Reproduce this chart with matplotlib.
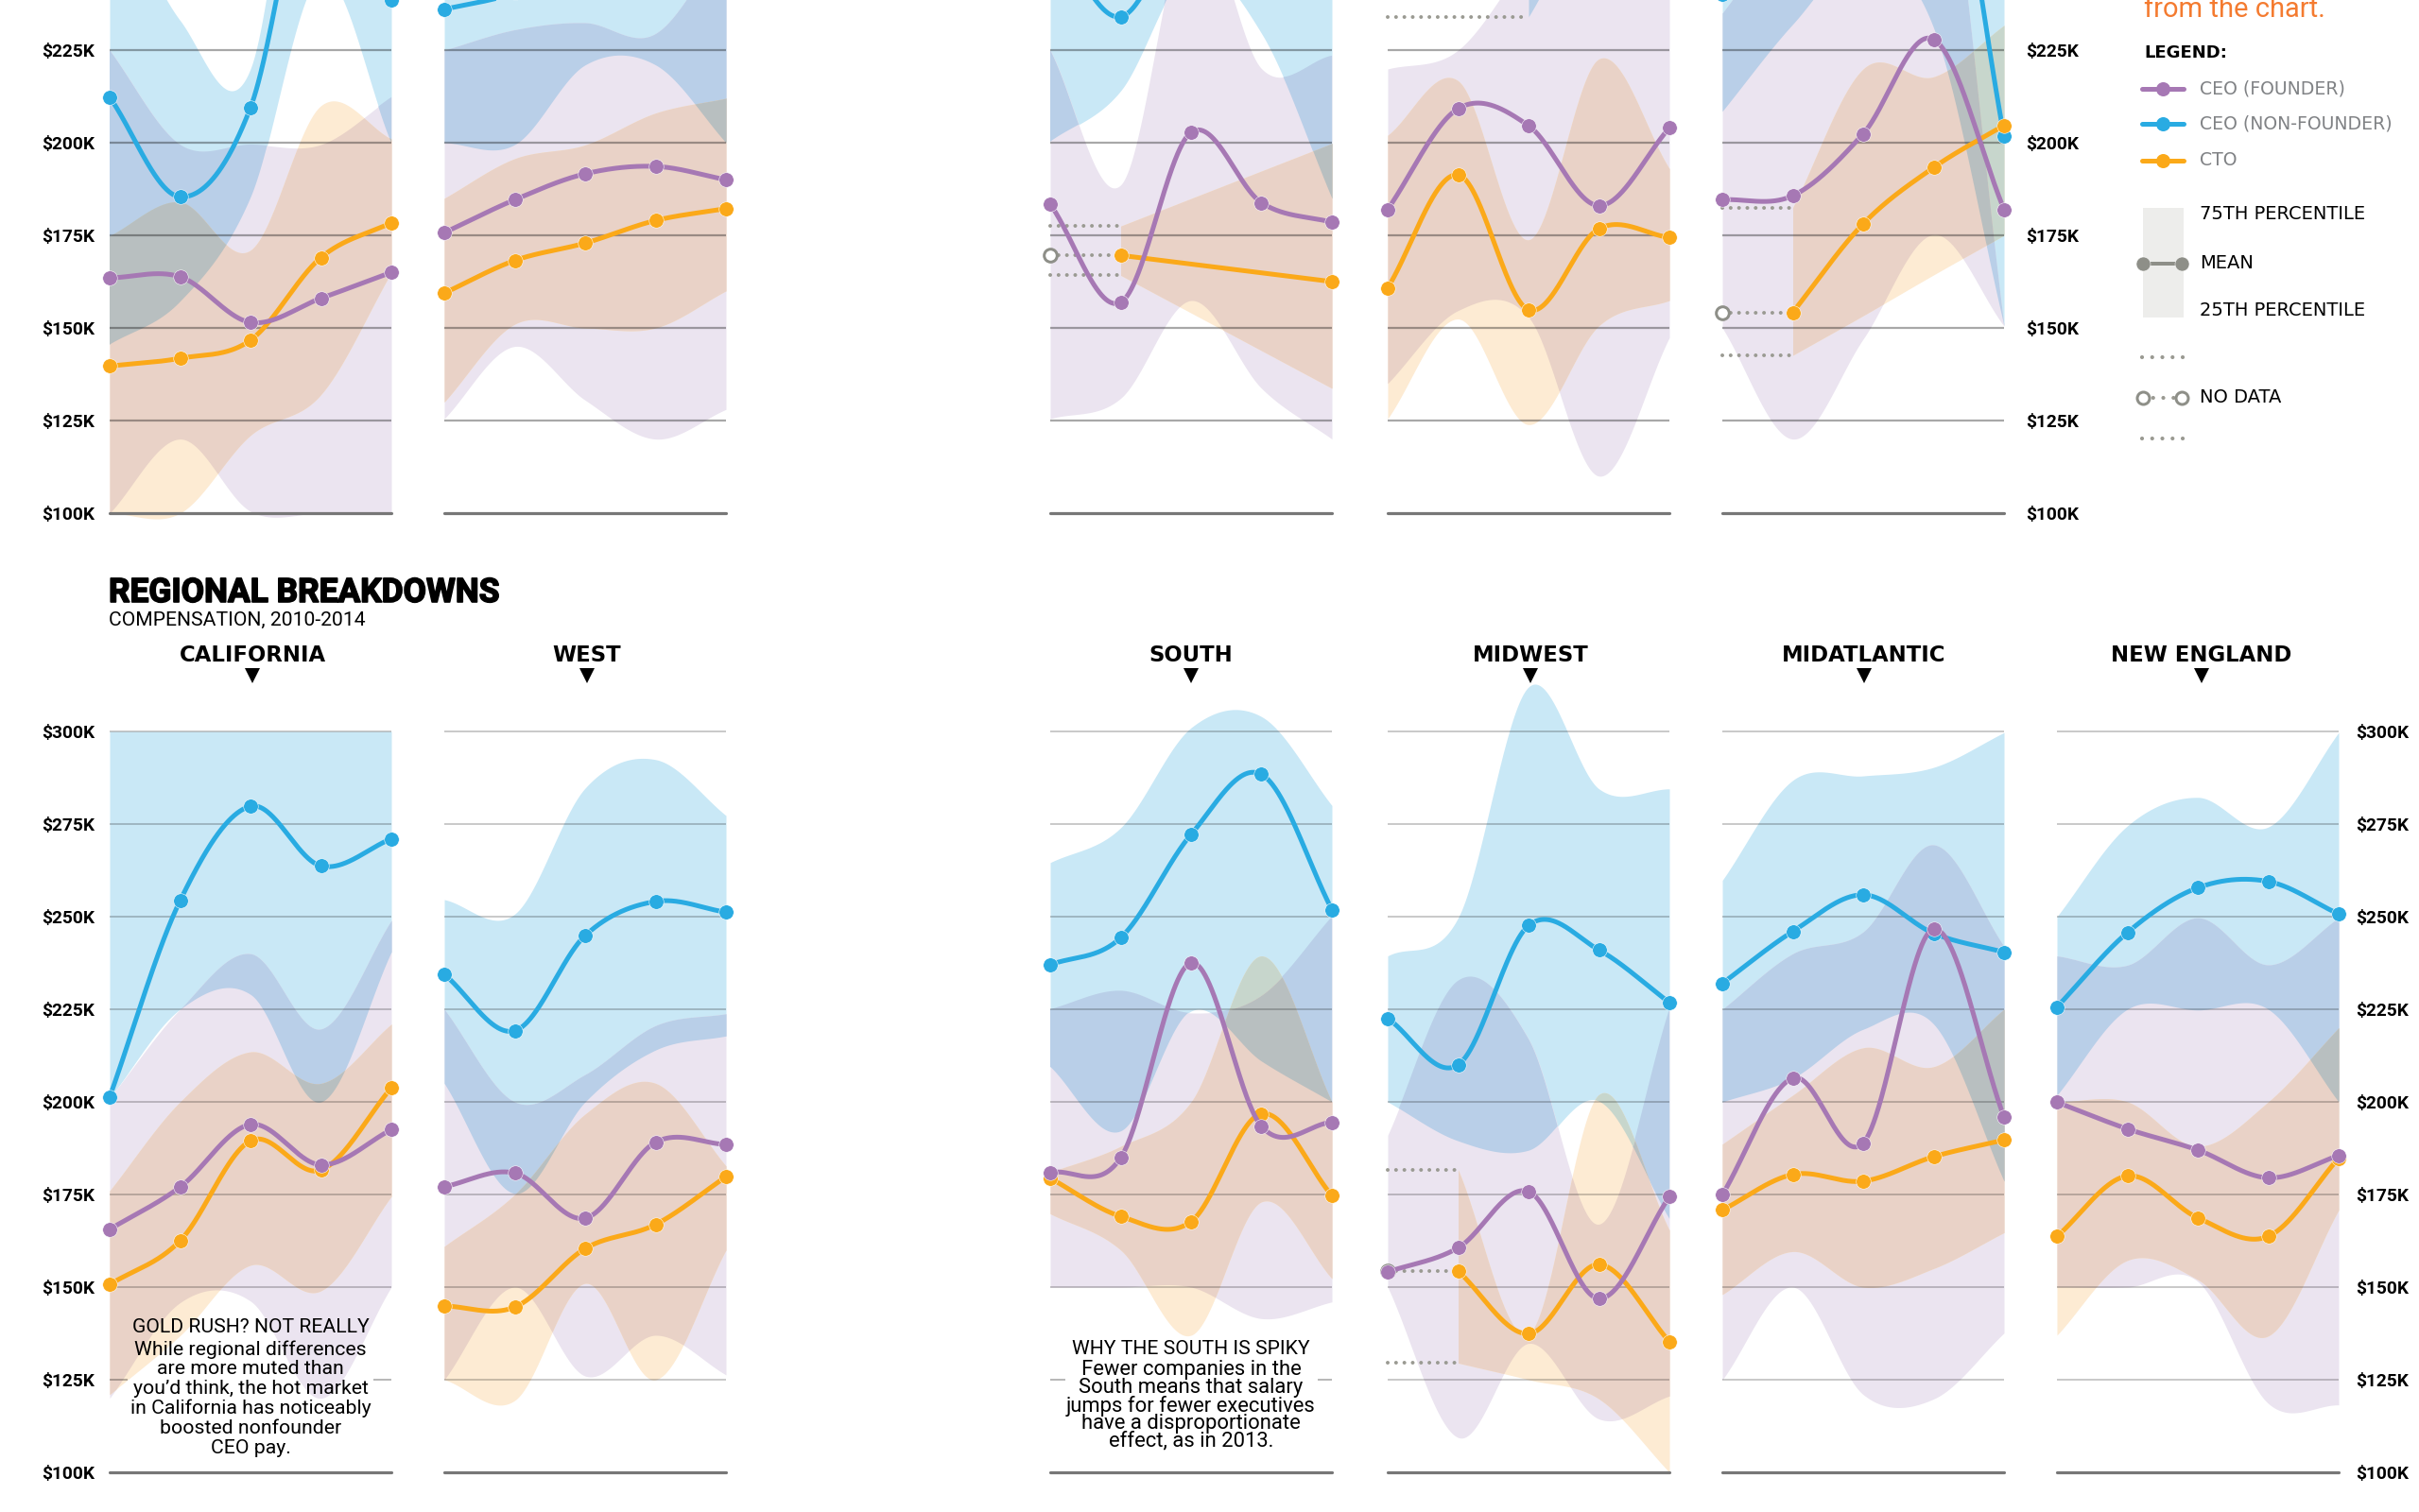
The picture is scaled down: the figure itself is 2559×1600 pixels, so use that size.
import matplotlib
matplotlib.use("Agg")
import matplotlib.pyplot as plt
import matplotlib.patheffects as pe
from matplotlib.patches import Polygon, Rectangle
import numpy as np

nan = float("nan")
W, H = 2559, 1600
PX = 72 / 100  # points per pixel at dpi 100
PX_PER_K = 3.92

# all values in $K, one value per year 2010-2014
T1_BLUE = [212.3, 185.4, 209.5, 285, 238.6]
T1_BLUE_LOW = [145.5, 157, 185, 245, 200]
T1_BLUE_HIGH = [270, 233, 220, 330, 300]
T1_PURPLE = [163.5, 163.8, 151.5, 158, 165]
T1_PURPLE_LOW = [100, 120, 100.5, 100, 100]
T1_PURPLE_HIGH = [225, 199.5, 199.5, 199.5, 212.3]
T1_ORANGE = [139.7, 141.8, 146.7, 169, 178.4]
T1_ORANGE_LOW = [100, 100, 121, 132, 165]
T1_ORANGE_HIGH = [174.7, 183.9, 171, 210, 201]

T2_BLUE = [236, 240.5, 250, 255, 260]
T2_BLUE_LOW = [200, 199.5, 221, 221, 200]
T2_BLUE_HIGH = [262, 272, 280, 285, 290]
T2_PURPLE = [175.7, 184.6, 191.6, 193.6, 190]
T2_PURPLE_LOW = [125.5, 145, 130.5, 120, 128]
T2_PURPLE_HIGH = [225, 230.5, 232.4, 229.5, 255]
T2_ORANGE = [159.4, 168.2, 172.9, 179, 182.2]
T2_ORANGE_LOW = [130, 151, 150, 150, 160]
T2_ORANGE_HIGH = [185, 195.7, 199.4, 208, 212]

T3_BLUE = [258, 234, 265, 280, 280]
T3_BLUE_LOW = [200.3, 214, 247, 229.5, 185]
T3_BLUE_HIGH = [285, 285, 290, 295, 295]
T3_PURPLE = [183.4, 156.9, 202.8, 183.8, 178.5]
T3_PURPLE_LOW = [125.5, 131, 157.4, 133.7, 120]
T3_PURPLE_HIGH = [225, 188.6, 262, 220, 223.5]
T3_ORANGE = [nan, 169.6, nan, nan, 162.5]
T3_ORANGE_LOW = [nan, 164.2, nan, nan, 133.7]
T3_ORANGE_HIGH = [nan, 177.5, nan, nan, 199.8]

T4_BLUE = [nan, nan, 250, 270, 270]
T4_BLUE_LOW = [nan, nan, 234, 265, 265]
T4_BLUE_HIGH = [nan, nan, 275, 285, 285]
T4_PURPLE = [182, 209.2, 204.6, 183, 204]
T4_PURPLE_LOW = [135, 154.7, 152.9, 110, 147.4]
T4_PURPLE_HIGH = [219.9, 225, 250, 275, 275]
T4_ORANGE = [160.8, 191.3, 154.9, 176.8, 174.4]
T4_ORANGE_LOW = [125.5, 152.4, 123.9, 150.6, 157.4]
T4_ORANGE_HIGH = [202, 216.7, 173.8, 222.6, 193]

T5_BLUE = [240, 262, 280, 305, 201.8]
T5_BLUE_LOW = [208.5, 232, 250, 231, 150.6]
T5_BLUE_HIGH = [262, 280, 290, 320, 290]
T5_PURPLE = [184.6, 185.7, 202.4, 227.9, 182]
T5_PURPLE_LOW = [150, 120, 147, 175.2, 150.5]
T5_PURPLE_HIGH = [235, 260, 280, 300, 150.6]
T5_ORANGE = [nan, 154.2, 178.1, 193.3, 204.7]
T5_ORANGE_LOW = [nan, 142.6, 153.3, 164.3, 175]
T5_ORANGE_HIGH = [nan, 182.5, 219.9, 217.8, 231.7]

CAL_BLUE = [201.3, 254.3, 279.8, 263.7, 271]
CAL_BLUE_LOW = [201, 225, 229, 200, 240.5]
CAL_BLUE_HIGH = [300, 300, 300, 300, 300]
CAL_PURPLE = [165.6, 177, 193.9, 183, 192.5]
CAL_PURPLE_LOW = [120, 145.8, 146.2, 120, 150]
CAL_PURPLE_HIGH = [201, 225, 240, 219.7, 249]
CAL_ORANGE = [150.7, 162.5, 189.5, 181.6, 203.8]
CAL_ORANGE_LOW = [121, 136.9, 155.9, 149, 174.5]
CAL_ORANGE_HIGH = [176, 200, 213.5, 205, 221]

WEST_BLUE = [234.4, 219.2, 244.9, 254.1, 251.2]
WEST_BLUE_LOW = [205, 175.3, 200, 214, 217.8]
WEST_BLUE_HIGH = [254.6, 250.7, 284.7, 292.4, 277.3]
WEST_PURPLE = [177.1, 180.8, 168.6, 189.1, 188.5]
WEST_PURPLE_LOW = [125, 150, 126, 137, 126.3]
WEST_PURPLE_HIGH = [225, 200, 207.4, 220.6, 223.8]
WEST_ORANGE = [144.9, 144.6, 160.4, 166.9, 179.8]
WEST_ORANGE_LOW = [125, 119.4, 151, 125, 160]
WEST_ORANGE_HIGH = [161, 175, 196.7, 205, 182.7]

SOUTH_BLUE = [237, 244.3, 272.2, 288.4, 251.9]
SOUTH_BLUE_LOW = [209.5, 192, 224.5, 211, 200]
SOUTH_BLUE_HIGH = [264.6, 274, 301, 304, 280]
SOUTH_PURPLE = [180.9, 184.9, 237.5, 193.4, 194.5]
SOUTH_PURPLE_LOW = [150, 150, 150, 141.5, 146]
SOUTH_PURPLE_HIGH = [225, 230, 224, 228.8, 250]
SOUTH_ORANGE = [179.4, 169.1, 167.7, 196.8, 174.7]
SOUTH_ORANGE_LOW = [169.8, 160, 137, 173, 152.3]
SOUTH_ORANGE_HIGH = [181, 188, 200, 239.4, 200]

MW_BLUE = [222.5, 210, 247.6, 241, 226.8]
MW_BLUE_LOW = [200, 189.4, 186.8, 200.2, 168.5]
MW_BLUE_HIGH = [239.4, 249.7, 312, 284.5, 284.5]
MW_PURPLE = [154.1, 160.6, 175.8, 146.9, 174.4]
MW_PURPLE_LOW = [150, 109.4, 134.8, 114.4, 120.6]
MW_PURPLE_HIGH = [191, 232.7, 217, 167, 225]
MW_ORANGE = [nan, 154.3, 137.4, 156.1, 135.3]
MW_ORANGE_LOW = [nan, 129.5, 125, 119.8, 100]
MW_ORANGE_HIGH = [nan, 181.7, 137.4, 202, 165.4]

MA_BLUE = [232, 246, 255.9, 245.5, 240.4]
MA_BLUE_LOW = [200, 206.4, 219.6, 221, 178.6]
MA_BLUE_HIGH = [259.8, 286.8, 288, 290.3, 299.7]
MA_PURPLE = [174.9, 206.4, 188.9, 246.6, 195.9]
MA_PURPLE_LOW = [125, 150, 121, 119.8, 137.6]
MA_PURPLE_HIGH = [225, 240, 245.9, 269.4, 242]
MA_ORANGE = [170.8, 180.4, 178.6, 185.2, 189.7]
MA_ORANGE_LOW = [148, 159.6, 150, 155, 164.7]
MA_ORANGE_HIGH = [188.6, 201.8, 214.6, 209.5, 225]

NE_BLUE = [225.6, 245.7, 257.8, 259.5, 250.7]
NE_BLUE_LOW = [201.8, 225, 224.8, 225, 200]
NE_BLUE_HIGH = [250, 274.5, 282.2, 274.2, 299.7]
NE_PURPLE = [199.9, 192.7, 187, 179.5, 185.5]
NE_PURPLE_LOW = [150, 150, 151.5, 118.6, 118.2]
NE_PURPLE_HIGH = [239.4, 236.9, 249.7, 237, 249.7]
NE_ORANGE = [163.7, 180, 168.7, 163.7, 184.8]
NE_ORANGE_LOW = [137, 157.2, 152, 136.8, 170.8]
NE_ORANGE_HIGH = [200, 200, 188, 200, 220]

TOP_TICKS = [100, 125, 150, 175, 200, 225]
BOTTOM_TICKS = [100, 125, 150, 175, 200, 225, 250, 275, 300]
LEGEND_SERIES = ["CEO (FOUNDER)", "CEO (NON-FOUNDER)", "CTO"]
LEGEND_RANGE = ["75TH PERCENTILE", "MEAN", "25TH PERCENTILE"]

PURPLE, BLUE, ORANGE = "#A678B4", "#29ABE2", "#FBA919"
BAND_BLUE, BAND_PURPLE, BAND_ORANGE = "#C9E8F6", "#EBE4F0", "#FDEBD3"
GRAY = "#8E8F88"
DOT_GRAY = "#9A9A92"

TICK_FONT = dict(family="Roboto", fontweight="bold", fontsize=13.8, color="black")
xs = np.linspace(0, 4, 401)


def smooth(vals):
    """Catmull-Rom curve through the yearly values, sampled on xs."""
    v = np.array(vals, dtype=float)
    px = np.flatnonzero(np.isfinite(v))
    py = v[px]
    out = np.full(xs.shape, nan)
    if len(px) == 2:
        m = xs >= px[0] - 1e-9
        m &= xs <= px[1] + 1e-9
        out[m] = np.interp(xs[m], px, py)
        return out
    slopes = np.gradient(py, px)
    slopes[0] = (py[1] - py[0]) / (px[1] - px[0])
    slopes[-1] = (py[-1] - py[-2]) / (px[-1] - px[-2])
    for i in range(len(px) - 1):
        h = px[i + 1] - px[i]
        m = (xs >= px[i] - 1e-9) & (xs <= px[i + 1] + 1e-9)
        t = (xs[m] - px[i]) / h
        out[m] = ((2 * t**3 - 3 * t**2 + 1) * py[i] + (t**3 - 2 * t**2 + t) * h * slopes[i]
                  + (-2 * t**3 + 3 * t**2) * py[i + 1] + (t**3 - t**2) * h * slopes[i + 1])
    return out


def multiply(colors):
    rgb = np.ones(3)
    for c in colors:
        rgb = rgb * np.array(matplotlib.colors.to_rgb(c))
    return tuple(rgb)


def draw_bands(ax, bands):
    curves = [(smooth(lo), smooth(hi), c) for lo, hi, c in bands]
    combos = [(0,), (1,), (2,), (0, 1), (0, 2), (1, 2), (0, 1, 2)]
    for combo in combos:
        lo = np.max([curves[i][0] for i in combo], axis=0)
        hi = np.min([curves[i][1] for i in combo], axis=0)
        with np.errstate(invalid="ignore"):
            mask = hi > lo
        col = multiply([curves[i][2] for i in combo])
        ax.fill_between(xs, lo, hi, where=mask, interpolate=True, color=col, lw=0, zorder=1 + 0.1 * len(combo))


def draw_no_data(ax, mean, low, high):
    first = int(np.flatnonzero(np.isfinite(mean))[0])
    if first == 0:
        return
    for vals in (low, mean, high):
        ax.plot([0, first], [vals[first], vals[first]], color=DOT_GRAY, lw=4.2 * PX * 0.95,
                linestyle=(0, (0.01, 2.2)), dash_capstyle="round", zorder=3, clip_on=False)
    ax.plot([0], [mean[first]], "o", ms=13 * PX * 1.05, mfc="white", mec=GRAY, mew=3 * PX, zorder=3.5, clip_on=False)


def draw_panel(box, row, ticks, data, tick_side=None, pad=16, gap=None):
    x0, x1 = box
    (y_top, y_bot, y100) = row
    ax = fig.add_axes([x0 / W, 1 - y_bot / H, (x1 - x0) / W, (y_bot - y_top) / H])
    ax.set_xlim(0, 4)
    ax.set_ylim(100 - (y_bot - y100) / PX_PER_K, 100 + (y100 - y_top) / PX_PER_K)
    ax.patch.set_visible(False)
    for s in ax.spines.values():
        s.set_visible(False)
    ax.set_xticks([])
    if tick_side:
        ax.set_yticks(ticks)
        ax.set_yticklabels([f"${t}K" for t in ticks], **TICK_FONT)
        ax.tick_params(axis="y", length=0, pad=pad * PX)
        if tick_side == "right":
            ax.yaxis.tick_right()
    else:
        ax.set_yticks([])

    blue, purple, orange = data
    draw_bands(ax, [(blue[1], blue[2], BAND_BLUE), (purple[1], purple[2], BAND_PURPLE),
                    (orange[1], orange[2], BAND_ORANGE)])

    is_top = y_top == 0
    for t in ticks:
        if t == 100:
            ax.plot([0, 4], [t, t], color="#777777", lw=3.2 * PX, solid_capstyle="round", zorder=2.5, clip_on=False)
        elif gap and t == 125:
            ax.hlines([t, t], [0, gap[1]], [gap[0], 4], color="black", alpha=0.28, lw=2 * PX, zorder=2.5)
        else:
            ax.hlines(t, 0, 4, color="black", alpha=0.34 if is_top else 0.26, lw=(2.2 if is_top else 1.6) * PX, zorder=2.5)

    for (mean, low, high), col, z in ((blue, BLUE, 4), (orange, ORANGE, 5), (purple, PURPLE, 6)):
        draw_no_data(ax, mean, low, high)
        ax.plot(xs, smooth(mean), color=col, lw=5 * PX, zorder=z, clip_on=False)
        ax.plot(range(5), mean, "o", color=col, ms=15.5 * PX, mec="white", mew=0.5 * PX, zorder=z + 0.1, clip_on=False)
    return ax


fig = plt.figure(figsize=(W / 100, H / 100), dpi=100, facecolor="white")

TOP_ROW = (0, 570, 543)
BOT_ROW = (690, 1600, 1558)

draw_panel((116, 414), TOP_ROW, TOP_TICKS,
           ((T1_BLUE, T1_BLUE_LOW, T1_BLUE_HIGH), (T1_PURPLE, T1_PURPLE_LOW, T1_PURPLE_HIGH),
            (T1_ORANGE, T1_ORANGE_LOW, T1_ORANGE_HIGH)), tick_side="left", pad=16)
draw_panel((470, 768), TOP_ROW, TOP_TICKS,
           ((T2_BLUE, T2_BLUE_LOW, T2_BLUE_HIGH), (T2_PURPLE, T2_PURPLE_LOW, T2_PURPLE_HIGH),
            (T2_ORANGE, T2_ORANGE_LOW, T2_ORANGE_HIGH)))
draw_panel((1111, 1409), TOP_ROW, TOP_TICKS,
           ((T3_BLUE, T3_BLUE_LOW, T3_BLUE_HIGH), (T3_PURPLE, T3_PURPLE_LOW, T3_PURPLE_HIGH),
            (T3_ORANGE, T3_ORANGE_LOW, T3_ORANGE_HIGH)))
draw_panel((1468, 1766), TOP_ROW, TOP_TICKS,
           ((T4_BLUE, T4_BLUE_LOW, T4_BLUE_HIGH), (T4_PURPLE, T4_PURPLE_LOW, T4_PURPLE_HIGH),
            (T4_ORANGE, T4_ORANGE_LOW, T4_ORANGE_HIGH)))
draw_panel((1822, 2120), TOP_ROW, TOP_TICKS,
           ((T5_BLUE, T5_BLUE_LOW, T5_BLUE_HIGH), (T5_PURPLE, T5_PURPLE_LOW, T5_PURPLE_HIGH),
            (T5_ORANGE, T5_ORANGE_LOW, T5_ORANGE_HIGH)), tick_side="right", pad=23)

draw_panel((116, 414), BOT_ROW, BOTTOM_TICKS,
           ((CAL_BLUE, CAL_BLUE_LOW, CAL_BLUE_HIGH), (CAL_PURPLE, CAL_PURPLE_LOW, CAL_PURPLE_HIGH),
            (CAL_ORANGE, CAL_ORANGE_LOW, CAL_ORANGE_HIGH)), tick_side="left", pad=16, gap=(0.25, 3.75))
draw_panel((470, 768), BOT_ROW, BOTTOM_TICKS,
           ((WEST_BLUE, WEST_BLUE_LOW, WEST_BLUE_HIGH), (WEST_PURPLE, WEST_PURPLE_LOW, WEST_PURPLE_HIGH),
            (WEST_ORANGE, WEST_ORANGE_LOW, WEST_ORANGE_HIGH)))
draw_panel((1111, 1409), BOT_ROW, BOTTOM_TICKS,
           ((SOUTH_BLUE, SOUTH_BLUE_LOW, SOUTH_BLUE_HIGH), (SOUTH_PURPLE, SOUTH_PURPLE_LOW, SOUTH_PURPLE_HIGH),
            (SOUTH_ORANGE, SOUTH_ORANGE_LOW, SOUTH_ORANGE_HIGH)), gap=(0.22, 3.8))
draw_panel((1468, 1766), BOT_ROW, BOTTOM_TICKS,
           ((MW_BLUE, MW_BLUE_LOW, MW_BLUE_HIGH), (MW_PURPLE, MW_PURPLE_LOW, MW_PURPLE_HIGH),
            (MW_ORANGE, MW_ORANGE_LOW, MW_ORANGE_HIGH)))
draw_panel((1822, 2120), BOT_ROW, BOTTOM_TICKS,
           ((MA_BLUE, MA_BLUE_LOW, MA_BLUE_HIGH), (MA_PURPLE, MA_PURPLE_LOW, MA_PURPLE_HIGH),
            (MA_ORANGE, MA_ORANGE_LOW, MA_ORANGE_HIGH)))
draw_panel((2176, 2474), BOT_ROW, BOTTOM_TICKS,
           ((NE_BLUE, NE_BLUE_LOW, NE_BLUE_HIGH), (NE_PURPLE, NE_PURPLE_LOW, NE_PURPLE_HIGH),
            (NE_ORANGE, NE_ORANGE_LOW, NE_ORANGE_HIGH)), tick_side="right", pad=18)

# overlay in pixel coordinates for the headings, notes and legend
ov = fig.add_axes([0, 0, 1, 1], zorder=20)
ov.set_xlim(0, W)
ov.set_ylim(H, 0)
ov.axis("off")

ov.text(115, 637, "REGIONAL BREAKDOWNS", family="Roboto", fontweight="bold", fontsize=25.4, va="baseline",
        path_effects=[pe.withStroke(linewidth=1.2, foreground="black")])
ov.text(115, 662, "COMPENSATION, 2010-2014", family="Roboto", fontsize=15.2, va="baseline")

for name, cx in (("CALIFORNIA", 267), ("WEST", 621), ("SOUTH", 1260), ("MIDWEST", 1619),
                 ("MIDATLANTIC", 1972), ("NEW ENGLAND", 2329)):
    ov.text(cx, 700, name, family="DejaVu Sans", fontweight="bold", fontsize=16.4, ha="center", va="baseline")
    ov.add_patch(Polygon([(cx - 8, 707), (cx + 8, 707), (cx, 723)], color="black", lw=0))

NOTE_FONT = dict(family="Roboto", ha="center", va="center", color="black")
ov.text(265, 1405, "GOLD RUSH? NOT REALLY", fontsize=15.2, **NOTE_FONT)
for i, line in enumerate(["While regional differences", "are more muted than", "you\u2019d think, the hot market",
                          "in California has noticeably", "boosted nonfounder", "CEO pay."]):
    ov.text(265, 1428 + i * 20.8, line, fontsize=15.3, **NOTE_FONT)
ov.text(1260, 1427.5, "WHY THE SOUTH IS SPIKY", fontsize=15.2, **NOTE_FONT)
for i, line in enumerate(["Fewer companies in the", "South means that salary", "jumps for fewer executives",
                          "have a disproportionate", "effect, as in 2013."]):
    ov.text(1260, 1450 + i * 18.8, line, fontsize=15.8, **NOTE_FONT)

# legend
ov.text(2268, 18, "from the chart.", family="Roboto", fontsize=21, color="#F47B30", va="baseline")
ov.text(2268, 61, "LEGEND:", family="DejaVu Sans", fontweight="bold", fontsize=13, va="baseline")
for label, col, y in zip(LEGEND_SERIES, (PURPLE, BLUE, ORANGE), (93.6, 131.4, 169.6)):
    ov.plot([2266, 2310], [y, y], color=col, lw=5 * PX, solid_capstyle="round")
    ov.plot([2288], [y], "o", color=col, ms=15 * PX, mew=0)
    ov.text(2327, y, label, family="DejaVu Sans", fontsize=13.6, color="#808285", va="center")

ov.add_patch(Rectangle((2267, 220), 43, 116, color="#EDEDEB", lw=0))
ov.plot([2267, 2308], [278.6, 278.6], "-o", color=GRAY, lw=4 * PX, ms=15 * PX, mec="white", mew=0.5 * PX)
for label, y in zip(LEGEND_RANGE, (227, 278.6, 329)):
    ov.text(2327, y, label, family="DejaVu Sans", fontsize=14, color="black", va="center")

for y in (378, 464):
    ov.plot([2266, 2310], [y, y], color=DOT_GRAY, lw=4.2 * PX, linestyle=(0, (0.01, 2.55)), dash_capstyle="round")
ov.plot([2267, 2308], [421, 421], color=DOT_GRAY, lw=4.2 * PX, linestyle=(0, (0.01, 2.55)), dash_capstyle="round")
ov.plot([2267, 2308], [421, 421], "o", ms=13 * PX, mfc="white", mec=GRAY, mew=3 * PX)
ov.text(2327, 421, "NO DATA", family="DejaVu Sans", fontsize=14, color="black", va="center")

fig.savefig("out.png", dpi=100)
